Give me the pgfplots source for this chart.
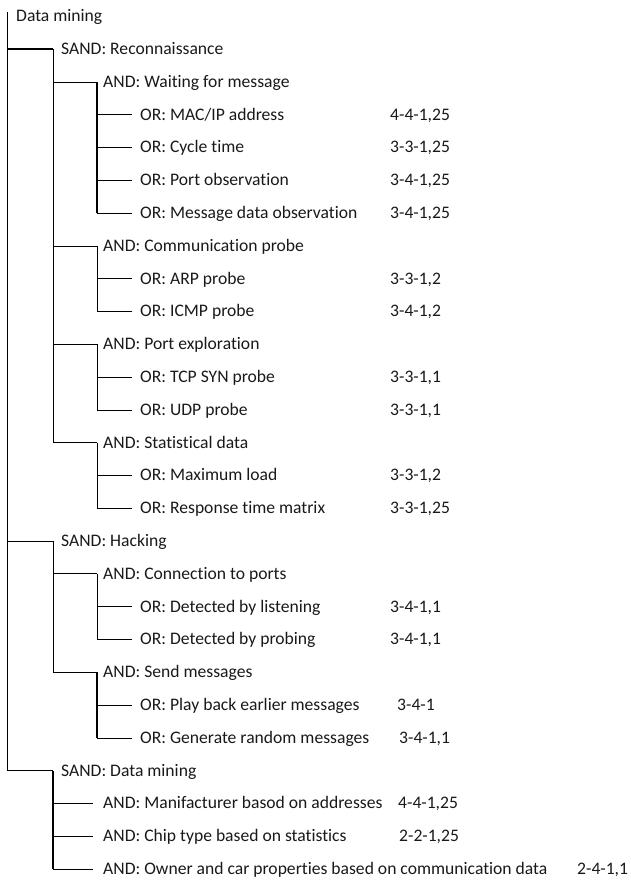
\documentclass[border=0pt]{standalone}
\usepackage{pgfplots}
\pgfplotsset{compat=1.18}
\usepackage{fontspec}
\setmainfont{Carlito}[Ligatures={NoCommon,NoRare,NoContextual}]
\begin{document}
\begin{tikzpicture}
\begin{axis}[
  hide axis, scale only axis, width=630pt, height=880pt,
  xmin=0, xmax=630, ymin=0, ymax=880, y dir=reverse, clip=false,
  cycle list={{black, solid, line width=1.2pt, line cap=rect, mark=none}},
  nodes={anchor=base west, inner sep=0pt, font=\fontsize{17.6}{20}\selectfont, text=black!90}
]
\addplot[draw=none] coordinates {(0,0) (630,880)};
% main vertical
\addplot coordinates {(7,12) (7,770.6)};
% SAND branches
\addplot coordinates {(7,49) (53,49)};
\addplot coordinates {(7,541) (53,541)};
\addplot coordinates {(7,770.6) (53,770.6)};
% SAND verticals
\addplot coordinates {(53,49) (53,442.6)};
\addplot coordinates {(53,541) (53,672.2)};
\addplot coordinates {(53,770.6) (53,869)};
% AND branches
\addplot coordinates {(53,81.8) (97,81.8)};
\addplot coordinates {(53,245.8) (97,245.8)};
\addplot coordinates {(53,344.2) (97,344.2)};
\addplot coordinates {(53,442.6) (97,442.6)};
\addplot coordinates {(53,573.8) (97,573.8)};
\addplot coordinates {(53,672.2) (97,672.2)};
\addplot coordinates {(53,803.4) (93,803.4)};
\addplot coordinates {(53,836.2) (93,836.2)};
\addplot coordinates {(53,869) (93,869)};
% AND verticals
\addplot coordinates {(97,81.8) (97,213)};
\addplot coordinates {(97,245.8) (97,311.4)};
\addplot coordinates {(97,344.2) (97,409.8)};
\addplot coordinates {(97,442.6) (97,508.2)};
\addplot coordinates {(97,573.8) (97,639.4)};
\addplot coordinates {(97,672.2) (97,737.8)};
% OR branches
\addplot coordinates {(97,114.6) (132,114.6)};
\addplot coordinates {(97,147.4) (132,147.4)};
\addplot coordinates {(97,180.2) (132,180.2)};
\addplot coordinates {(97,213) (132,213)};
\addplot coordinates {(97,278.6) (132,278.6)};
\addplot coordinates {(97,311.4) (132,311.4)};
\addplot coordinates {(97,377) (132,377)};
\addplot coordinates {(97,409.8) (132,409.8)};
\addplot coordinates {(97,475.4) (132,475.4)};
\addplot coordinates {(97,508.2) (132,508.2)};
\addplot coordinates {(97,606.6) (132,606.6)};
\addplot coordinates {(97,639.4) (132,639.4)};
\addplot coordinates {(97,705) (132,705)};
\addplot coordinates {(97,737.8) (132,737.8)};
% labels
\node at (axis cs:16,22) {Data mining};
\node at (axis cs:61,54.5) {SAND: Reconnaissance};
\node at (axis cs:103,87.3) {AND: Waiting for message};
\node at (axis cs:140,120.1) {OR: MAC/IP address};
\node at (axis cs:140,152.9) {OR: Cycle time};
\node at (axis cs:140,185.7) {OR: Port observation};
\node at (axis cs:140,218.5) {OR: Message data observation};
\node at (axis cs:103,251.3) {AND: Communication probe};
\node at (axis cs:140,284.1) {OR: ARP probe};
\node at (axis cs:140,316.9) {OR: ICMP probe};
\node at (axis cs:103,349.7) {AND: Port exploration};
\node at (axis cs:140,382.5) {OR: TCP SYN probe};
\node at (axis cs:140,415.3) {OR: UDP probe};
\node at (axis cs:103,448.1) {AND: Statistical data};
\node at (axis cs:140,480.9) {OR: Maximum load};
\node at (axis cs:140,513.7) {OR: Response time matrix};
\node at (axis cs:61,546.5) {SAND: Hacking};
\node at (axis cs:103,579.3) {AND: Connection to ports};
\node at (axis cs:140,612.1) {OR: Detected by listening};
\node at (axis cs:140,644.9) {OR: Detected by probing};
\node at (axis cs:103,677.7) {AND: Send messages};
\node at (axis cs:140,710.5) {OR: Play back earlier messages};
\node at (axis cs:140,743.3) {OR: Generate random messages};
\node at (axis cs:61,776.1) {SAND: Data mining};
\node at (axis cs:103,808.9) {AND: Manifacturer basod on addresses};
\node at (axis cs:103,841.7) {AND: Chip type based on statistics};
\node at (axis cs:103,874.5) {AND: Owner and car properties based on communication data};
% values
\node at (axis cs:390,120.1) {4-4-1,25};
\node at (axis cs:390,152.9) {3-3-1,25};
\node at (axis cs:390,185.7) {3-4-1,25};
\node at (axis cs:390,218.5) {3-4-1,25};
\node at (axis cs:390,284.1) {3-3-1,2};
\node at (axis cs:390,316.9) {3-4-1,2};
\node at (axis cs:390,382.5) {3-3-1,1};
\node at (axis cs:390,415.3) {3-3-1,1};
\node at (axis cs:390,480.9) {3-3-1,2};
\node at (axis cs:390,513.7) {3-3-1,25};
\node at (axis cs:390,612.1) {3-4-1,1};
\node at (axis cs:390,644.9) {3-4-1,1};
\node at (axis cs:397,710.5) {3-4-1};
\node at (axis cs:399,743.3) {3-4-1,1};
\node at (axis cs:398,808.9) {4-4-1,25};
\node at (axis cs:399,841.7) {2-2-1,25};
\node at (axis cs:577,874.5) {2-4-1,1};
\end{axis}
\end{tikzpicture}
\end{document}
